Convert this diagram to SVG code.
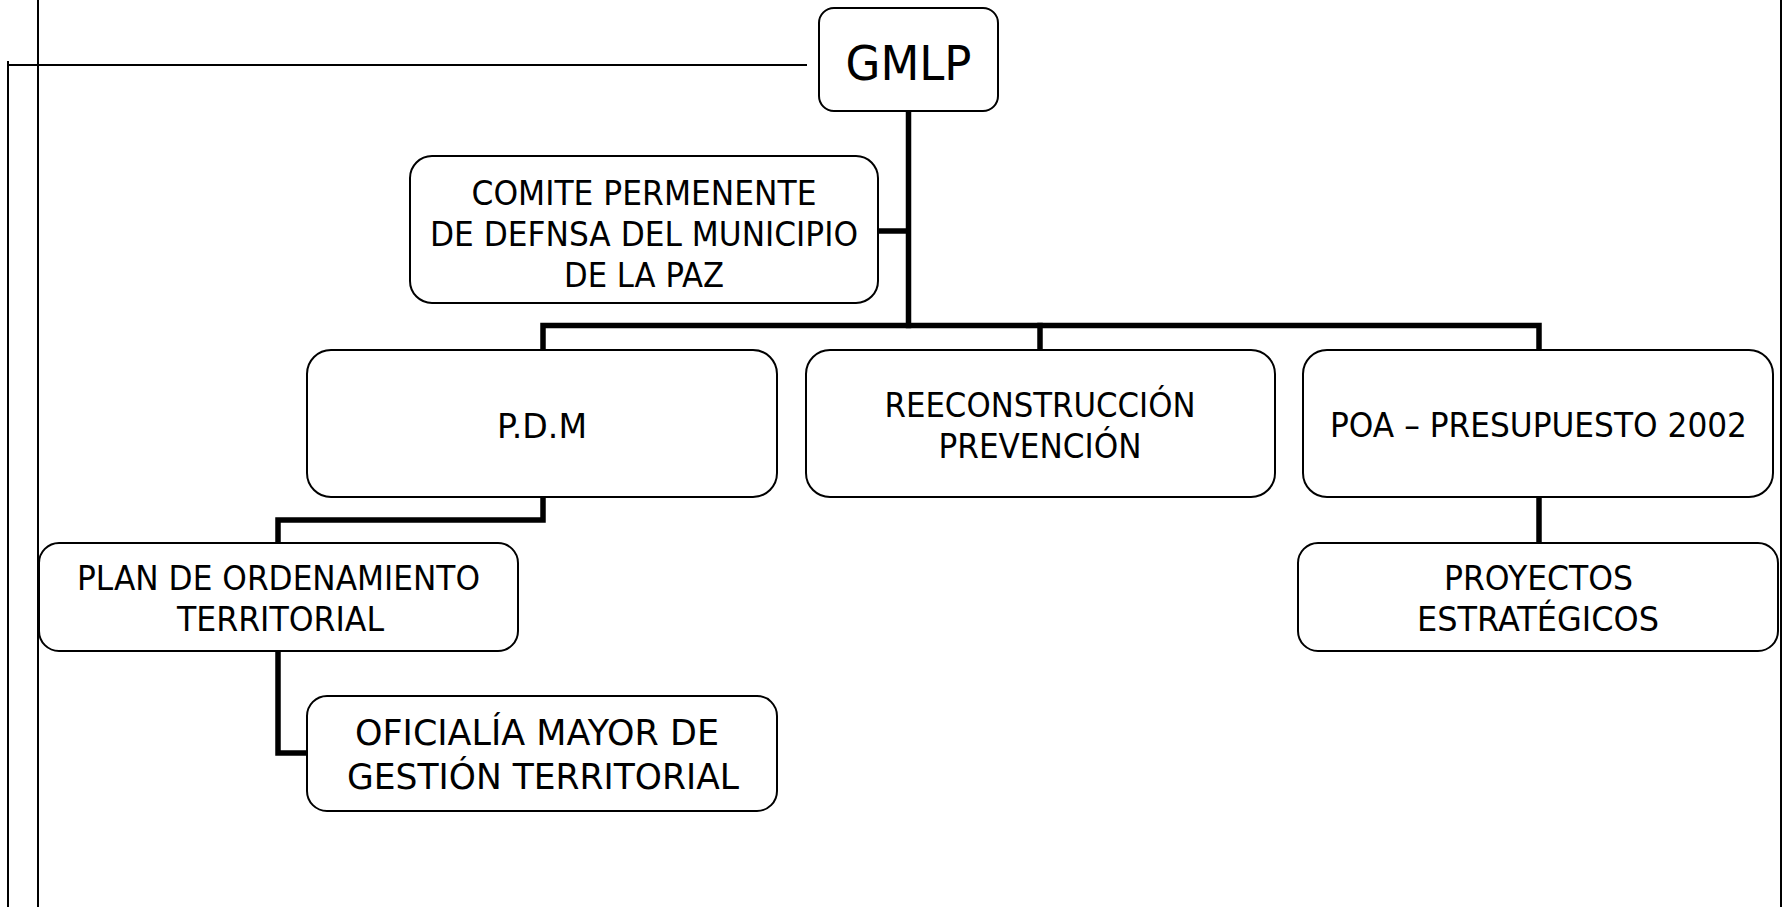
<svg xmlns="http://www.w3.org/2000/svg" width="1784" height="907" viewBox="0 0 1784 907">
<style>
.box{fill:#fff;stroke:#000;stroke-width:2}
.t{font-family:"DejaVu Sans","Liberation Sans",sans-serif;font-size:33px;fill:#000;text-anchor:middle}
.big{font-size:36px}
.huge{font-size:48px}
.con{fill:none;stroke:#000;stroke-width:5.5;stroke-linejoin:miter;stroke-linecap:square}
.thin{fill:none;stroke:#000;stroke-width:2}
</style>
<rect width="1784" height="907" fill="#fff"/>
<g id="frame">
<line class="thin" x1="38" y1="0" x2="38" y2="907"/>
<line class="thin" x1="8" y1="61" x2="8" y2="907" stroke-width="1.5"/>
<line class="thin" x1="8" y1="65" x2="807" y2="65"/>
<line class="thin" x1="1781" y1="0" x2="1781" y2="907"/>
</g>
<g id="connectors">
<path class="con" d="M908.5 111 V325.5"/>
<path class="con" d="M878 231 H908"/>
<path class="con" d="M543 350 V325.5 H1539 V350"/>
<path class="con" d="M1040 325.5 V350"/>
<path class="con" d="M543 497 V520 H278 V543"/>
<path class="con" d="M1539 497 V543"/>
<path class="con" d="M278 651 V753 H307"/>
</g>
<g id="gmlp">
<rect class="box" x="819" y="8" width="179" height="103" rx="15"/>
<text class="t huge" x="908.5" y="80" textLength="126" lengthAdjust="spacingAndGlyphs">GMLP</text>
</g>
<g id="comite">
<rect class="box" x="410" y="156" width="468" height="147" rx="22"/>
<text class="t" x="644" y="205" textLength="345" lengthAdjust="spacingAndGlyphs">COMITE PERMENENTE</text>
<text class="t" x="644" y="246" textLength="428" lengthAdjust="spacingAndGlyphs">DE DEFNSA DEL MUNICIPIO</text>
<text class="t" x="644" y="287" textLength="160" lengthAdjust="spacingAndGlyphs">DE LA PAZ</text>
</g>
<g id="pdm">
<rect class="box" x="307" y="350" width="470" height="147" rx="24"/>
<text class="t" x="542" y="438" textLength="90" lengthAdjust="spacingAndGlyphs">P.D.M</text>
</g>
<g id="reconstruccion">
<rect class="box" x="806" y="350" width="469" height="147" rx="24"/>
<text class="t" x="1040" y="417" textLength="311" lengthAdjust="spacingAndGlyphs">REECONSTRUCCIÓN</text>
<text class="t" x="1040" y="458" textLength="203" lengthAdjust="spacingAndGlyphs">PREVENCIÓN</text>
</g>
<g id="poa">
<rect class="box" x="1303" y="350" width="470" height="147" rx="24"/>
<text class="t" x="1538.5" y="437" textLength="417" lengthAdjust="spacingAndGlyphs">POA – PRESUPUESTO 2002</text>
</g>
<g id="proyectos">
<rect class="box" x="1298" y="543" width="480" height="108" rx="20"/>
<text class="t" x="1538.5" y="590" textLength="189" lengthAdjust="spacingAndGlyphs">PROYECTOS</text>
<text class="t" x="1538" y="631" textLength="242" lengthAdjust="spacingAndGlyphs">ESTRATÉGICOS</text>
</g>
<g id="plan">
<rect class="box" x="39" y="543" width="479" height="108" rx="20"/>
<text class="t" x="278.5" y="590" textLength="403" lengthAdjust="spacingAndGlyphs">PLAN DE ORDENAMIENTO</text>
<text class="t" x="280.5" y="631" textLength="207" lengthAdjust="spacingAndGlyphs">TERRITORIAL</text>
</g>
<g id="oficialia">
<rect class="box" x="307" y="696" width="470" height="115" rx="20"/>
<text class="t big" x="537" y="745" textLength="364" lengthAdjust="spacingAndGlyphs">OFICIALÍA MAYOR DE</text>
<text class="t big" x="543" y="789" textLength="392" lengthAdjust="spacingAndGlyphs">GESTIÓN TERRITORIAL</text>
</g>
</svg>
